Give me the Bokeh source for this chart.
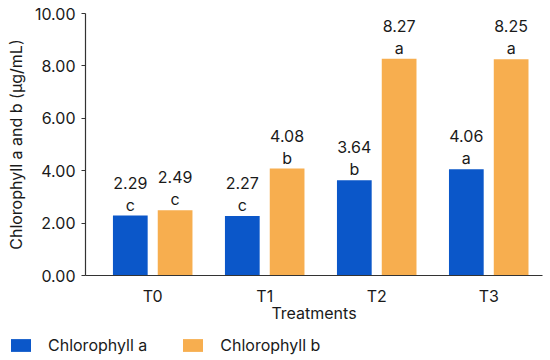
from bokeh.plotting import figure
from bokeh.models import ColumnDataSource, LabelSet, Legend, LegendItem, FixedTicker, PrintfTickFormatter, Range1d
from bokeh.core.properties import value
from bokeh.embed import file_html
from bokeh.resources import INLINE

treatments = ["T0", "T1", "T2", "T3"]
chl_a = [2.29, 2.27, 3.64, 4.06]
chl_b = [2.49, 4.08, 8.27, 8.25]
letters_a = ["c", "c", "b", "a"]
letters_b = ["c", "b", "a", "a"]
y_ticks = [0, 2, 4, 6, 8, 10]
series_names = ["Chlorophyll a", "Chlorophyll b"]

FONT = "Inter"
BLUE = "#0b57c9"
ORANGE = "#f7ae4f"
TXT = "#1a1a1a"

idx = list(range(len(treatments)))
off = 0.2
w = 0.31

src_a = ColumnDataSource(dict(x=[i - off for i in idx], top=chl_a,
                              val=[f"{v:.2f}" for v in chl_a], let=letters_a))
src_b = ColumnDataSource(dict(x=[i + off for i in idx], top=chl_b,
                              val=[f"{v:.2f}" for v in chl_b], let=letters_b))

p = figure(width=545, height=325, output_backend="svg", toolbar_location=None,
           x_range=Range1d(-0.6, 3.48), y_range=Range1d(0, 10),
           min_border_left=85, min_border_right=3, min_border_top=13, min_border_bottom=40)
p.outline_line_color = None
p.grid.grid_line_color = None
p.background_fill_color = "white"

ra = p.vbar(x="x", top="top", width=w, source=src_a, fill_color=BLUE, line_color=None)
rb = p.vbar(x="x", top="top", width=w, source=src_b, fill_color=ORANGE, line_color=None)

for src in (src_a, src_b):
    p.add_layout(LabelSet(x="x", y="top", text="let", source=src, y_offset=5,
                          text_align="center", text_baseline="alphabetic",
                          text_font=value(FONT), text_font_size="16px", text_color=TXT))
    p.add_layout(LabelSet(x="x", y="top", text="val", source=src, y_offset=27,
                          text_align="center", text_baseline="alphabetic",
                          text_font=value(FONT), text_font_size="16px", text_color=TXT))

# axes
p.xaxis.ticker = FixedTicker(ticks=idx)
p.xaxis.major_label_overrides = {i: t for i, t in zip(idx, treatments)}
p.xaxis.minor_tick_line_color = None
p.xaxis.major_label_standoff = 4
p.xaxis.axis_label = "Treatments"
p.xaxis.axis_label_standoff = -6

p.yaxis.ticker = FixedTicker(ticks=y_ticks)
p.yaxis.formatter = PrintfTickFormatter(format="%.2f")
p.yaxis.major_tick_in = 0
p.yaxis.major_tick_out = 4
p.yaxis.minor_tick_line_color = None
p.yaxis.major_label_standoff = 6
p.yaxis.axis_label = "Chlorophyll a and b (µg/mL)"
p.yaxis.axis_label_standoff = 6

for ax in (p.xaxis, p.yaxis):
    ax.axis_line_color = "#333333"
    ax.axis_line_width = 1.2
    ax.major_label_text_font = FONT
    ax.major_label_text_font_size = "16px"
    ax.major_label_text_color = TXT
    ax.axis_label_text_font = FONT
    ax.axis_label_text_font_size = "16px"
    ax.axis_label_text_font_style = "normal"
    ax.axis_label_text_color = TXT
p.xaxis.major_tick_line_color = None
p.yaxis.major_tick_line_color = "#333333"

# legend strip (separate root so it is not frame-aligned with the chart)
p2 = figure(width=545, height=30, output_backend="svg", toolbar_location=None,
            x_range=Range1d(100, 101), y_range=Range1d(100, 101),
            min_border_left=0, min_border_right=0, min_border_top=0, min_border_bottom=0)
p2.axis.visible = False
p2.grid.visible = False
p2.outline_line_color = None
la = p2.vbar(x="x", top="top", width=w, source=src_a, fill_color=BLUE, line_color=None)
lb = p2.vbar(x="x", top="top", width=w, source=src_b, fill_color=ORANGE, line_color=None)
legend = Legend(items=[LegendItem(label=series_names[0], renderers=[la]),
                       LegendItem(label=series_names[1], renderers=[lb])],
                location=(8, 0), orientation="horizontal",
                glyph_width=25, glyph_height=16, label_standoff=15, spacing=33,
                padding=0, margin=0, border_line_color=None, background_fill_alpha=0,
                label_text_font=FONT, label_text_font_size="16px", label_text_color=TXT)
p2.add_layout(legend, "center")

open("out.html", "w").write(file_html([p, p2], INLINE))
